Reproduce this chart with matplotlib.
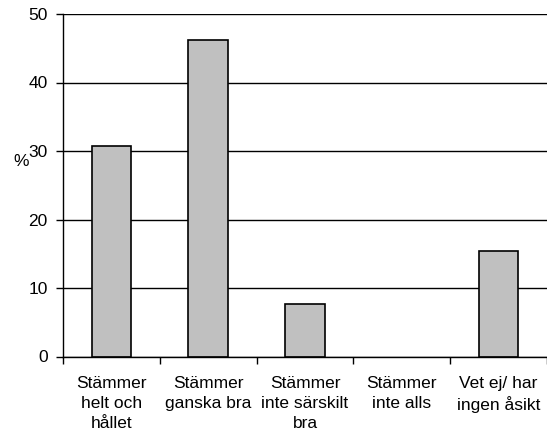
import matplotlib
matplotlib.use("Agg")
import matplotlib.pyplot as plt
import numpy as np

categories = ["Stämmer\nhelt och\nhållet", "Stämmer\nganska bra", "Stämmer\ninte särskilt\nbra",
              "Stämmer\ninte alls", "Vet ej/ har\ningen åsikt"]
values = [30.8, 46.2, 7.7, 0.0, 15.4]
yticks = [0, 10, 20, 30, 40, 50]

plt.rcParams['font.family'] = ['Liberation Sans', 'DejaVu Sans']

fig = plt.figure(figsize=(5.47, 4.37), dpi=100)
ax = fig.add_axes([63/547, 1-356.5/437, 1-63/547, (356.5-14)/437])

x = np.arange(len(categories))
edges = ["black" if v > 0 else "none" for v in values]
ax.bar(x, values, width=0.41, color="#c0c0c0", edgecolor=edges, linewidth=1.2, zorder=3)

ax.set_xlim(-0.5, len(categories)-0.5)
ax.set_ylim(0, 50)
ax.set_yticks(yticks)
ax.set_yticklabels([str(t) for t in yticks], fontsize=12.5)
ax.yaxis.grid(True, color="black", linewidth=1.0, zorder=0)
ax.set_axisbelow(True)

ax.set_xticks(x)
ax.set_xticklabels(categories, fontsize=12.5, linespacing=1.4, va="top")
ax.set_xticks(np.arange(len(categories)+1)-0.5, minor=True)
ax.tick_params(axis="x", which="major", length=0, pad=14)
ax.tick_params(axis="x", which="minor", length=5, width=1, color="black")
ax.tick_params(axis="y", length=5, width=1, pad=6)

for s in ["top", "right"]:
    ax.spines[s].set_visible(False)
for s in ["left", "bottom"]:
    ax.spines[s].set_linewidth(1.0)
ax.spines["bottom"].set_zorder(4)

fig.text(21/547, 1-162/437, "%", fontsize=12.5, ha="center", va="center")

fig.savefig("out.png", dpi=100)
